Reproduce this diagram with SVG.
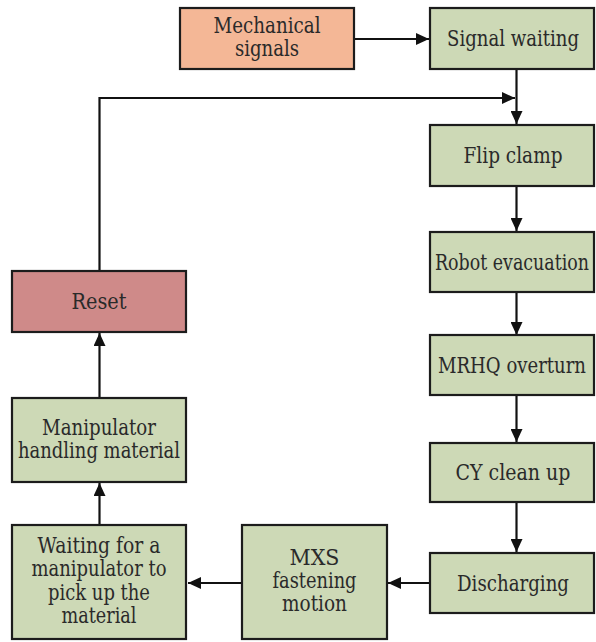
<svg xmlns="http://www.w3.org/2000/svg" width="596" height="642" viewBox="0 0 596 642">
  <style>
    .box { stroke: #1c1c1c; stroke-width: 2.2; }
    .green { fill: #cdd9b6; }
    .orange { fill: #f4b796; }
    .red { fill: #cf8a89; }
    .label { font-family: 'DejaVu Serif', 'Liberation Serif', serif; font-size: 22px; fill: #2a2a2a; text-anchor: middle; }
    .wire { fill: none; stroke: #111; stroke-width: 2.2; }
  </style>
  <defs>
    <marker id="arrow" markerUnits="userSpaceOnUse" markerWidth="14" markerHeight="12" refX="13" refY="6" orient="auto">
      <path d="M0,0 L13,6 L0,12 Z" fill="#111"/>
    </marker>
  </defs>
  <rect width="596" height="642" fill="#ffffff"/>

  <g id="connectors">
    <path class="wire" d="M354,39 H429" marker-end="url(#arrow)"/>
    <path class="wire" d="M516.5,69 V124" marker-end="url(#arrow)"/>
    <path class="wire" d="M99.5,271 V98 H515" marker-end="url(#arrow)"/>
    <path class="wire" d="M516.5,186 V231" marker-end="url(#arrow)"/>
    <path class="wire" d="M516.5,292 V335" marker-end="url(#arrow)"/>
    <path class="wire" d="M516.5,395 V442" marker-end="url(#arrow)"/>
    <path class="wire" d="M516.5,502 V552" marker-end="url(#arrow)"/>
    <path class="wire" d="M430,583 H388" marker-end="url(#arrow)"/>
    <path class="wire" d="M242,583 H188" marker-end="url(#arrow)"/>
    <path class="wire" d="M99.5,525 V483" marker-end="url(#arrow)"/>
    <path class="wire" d="M99.5,398 V333" marker-end="url(#arrow)"/>
  </g>

  <g id="mechanical-signals">
    <rect class="box orange" x="180" y="8" width="174" height="61"/>
    <text class="label" x="267" y="33" textLength="107" lengthAdjust="spacingAndGlyphs">Mechanical</text>
    <text class="label" x="267" y="56" textLength="64" lengthAdjust="spacingAndGlyphs">signals</text>
  </g>
  <g id="signal-waiting">
    <rect class="box green" x="430" y="8" width="164" height="61"/>
    <text class="label" x="513" y="46" textLength="132" lengthAdjust="spacingAndGlyphs">Signal waiting</text>
  </g>
  <g id="flip-clamp">
    <rect class="box green" x="430" y="125" width="164" height="61"/>
    <text class="label" x="513" y="163" textLength="99" lengthAdjust="spacingAndGlyphs">Flip clamp</text>
  </g>
  <g id="robot-evacuation">
    <rect class="box green" x="430" y="232" width="164" height="60"/>
    <text class="label" x="512" y="270" textLength="154" lengthAdjust="spacingAndGlyphs">Robot evacuation</text>
  </g>
  <g id="mrhq-overturn">
    <rect class="box green" x="430" y="335" width="164" height="60"/>
    <text class="label" x="512" y="373" textLength="148" lengthAdjust="spacingAndGlyphs">MRHQ overturn</text>
  </g>
  <g id="cy-clean-up">
    <rect class="box green" x="430" y="443" width="164" height="59"/>
    <text class="label" x="513" y="480" textLength="115" lengthAdjust="spacingAndGlyphs">CY clean up</text>
  </g>
  <g id="discharging">
    <rect class="box green" x="430" y="553" width="164" height="60"/>
    <text class="label" x="513" y="591" textLength="112" lengthAdjust="spacingAndGlyphs">Discharging</text>
  </g>
  <g id="mxs-fastening-motion">
    <rect class="box green" x="242" y="525" width="145" height="114"/>
    <text class="label" x="314.5" y="565" textLength="50" lengthAdjust="spacingAndGlyphs">MXS</text>
    <text class="label" x="314.5" y="588" textLength="84" lengthAdjust="spacingAndGlyphs">fastening</text>
    <text class="label" x="314.5" y="611" textLength="65" lengthAdjust="spacingAndGlyphs">motion</text>
  </g>
  <g id="waiting-for-manipulator">
    <rect class="box green" x="12" y="525" width="174" height="114"/>
    <text class="label" x="99" y="553" textLength="123" lengthAdjust="spacingAndGlyphs">Waiting for a</text>
    <text class="label" x="99" y="576" textLength="135" lengthAdjust="spacingAndGlyphs">manipulator to</text>
    <text class="label" x="99" y="600" textLength="102" lengthAdjust="spacingAndGlyphs">pick up the</text>
    <text class="label" x="99" y="623" textLength="75" lengthAdjust="spacingAndGlyphs">material</text>
  </g>
  <g id="manipulator-handling">
    <rect class="box green" x="12" y="398" width="174" height="84"/>
    <text class="label" x="99" y="435" textLength="114" lengthAdjust="spacingAndGlyphs">Manipulator</text>
    <text class="label" x="99" y="458" textLength="162" lengthAdjust="spacingAndGlyphs">handling material</text>
  </g>
  <g id="reset">
    <rect class="box red" x="12" y="271" width="174" height="61"/>
    <text class="label" x="99" y="309" textLength="55" lengthAdjust="spacingAndGlyphs">Reset</text>
  </g>
</svg>
